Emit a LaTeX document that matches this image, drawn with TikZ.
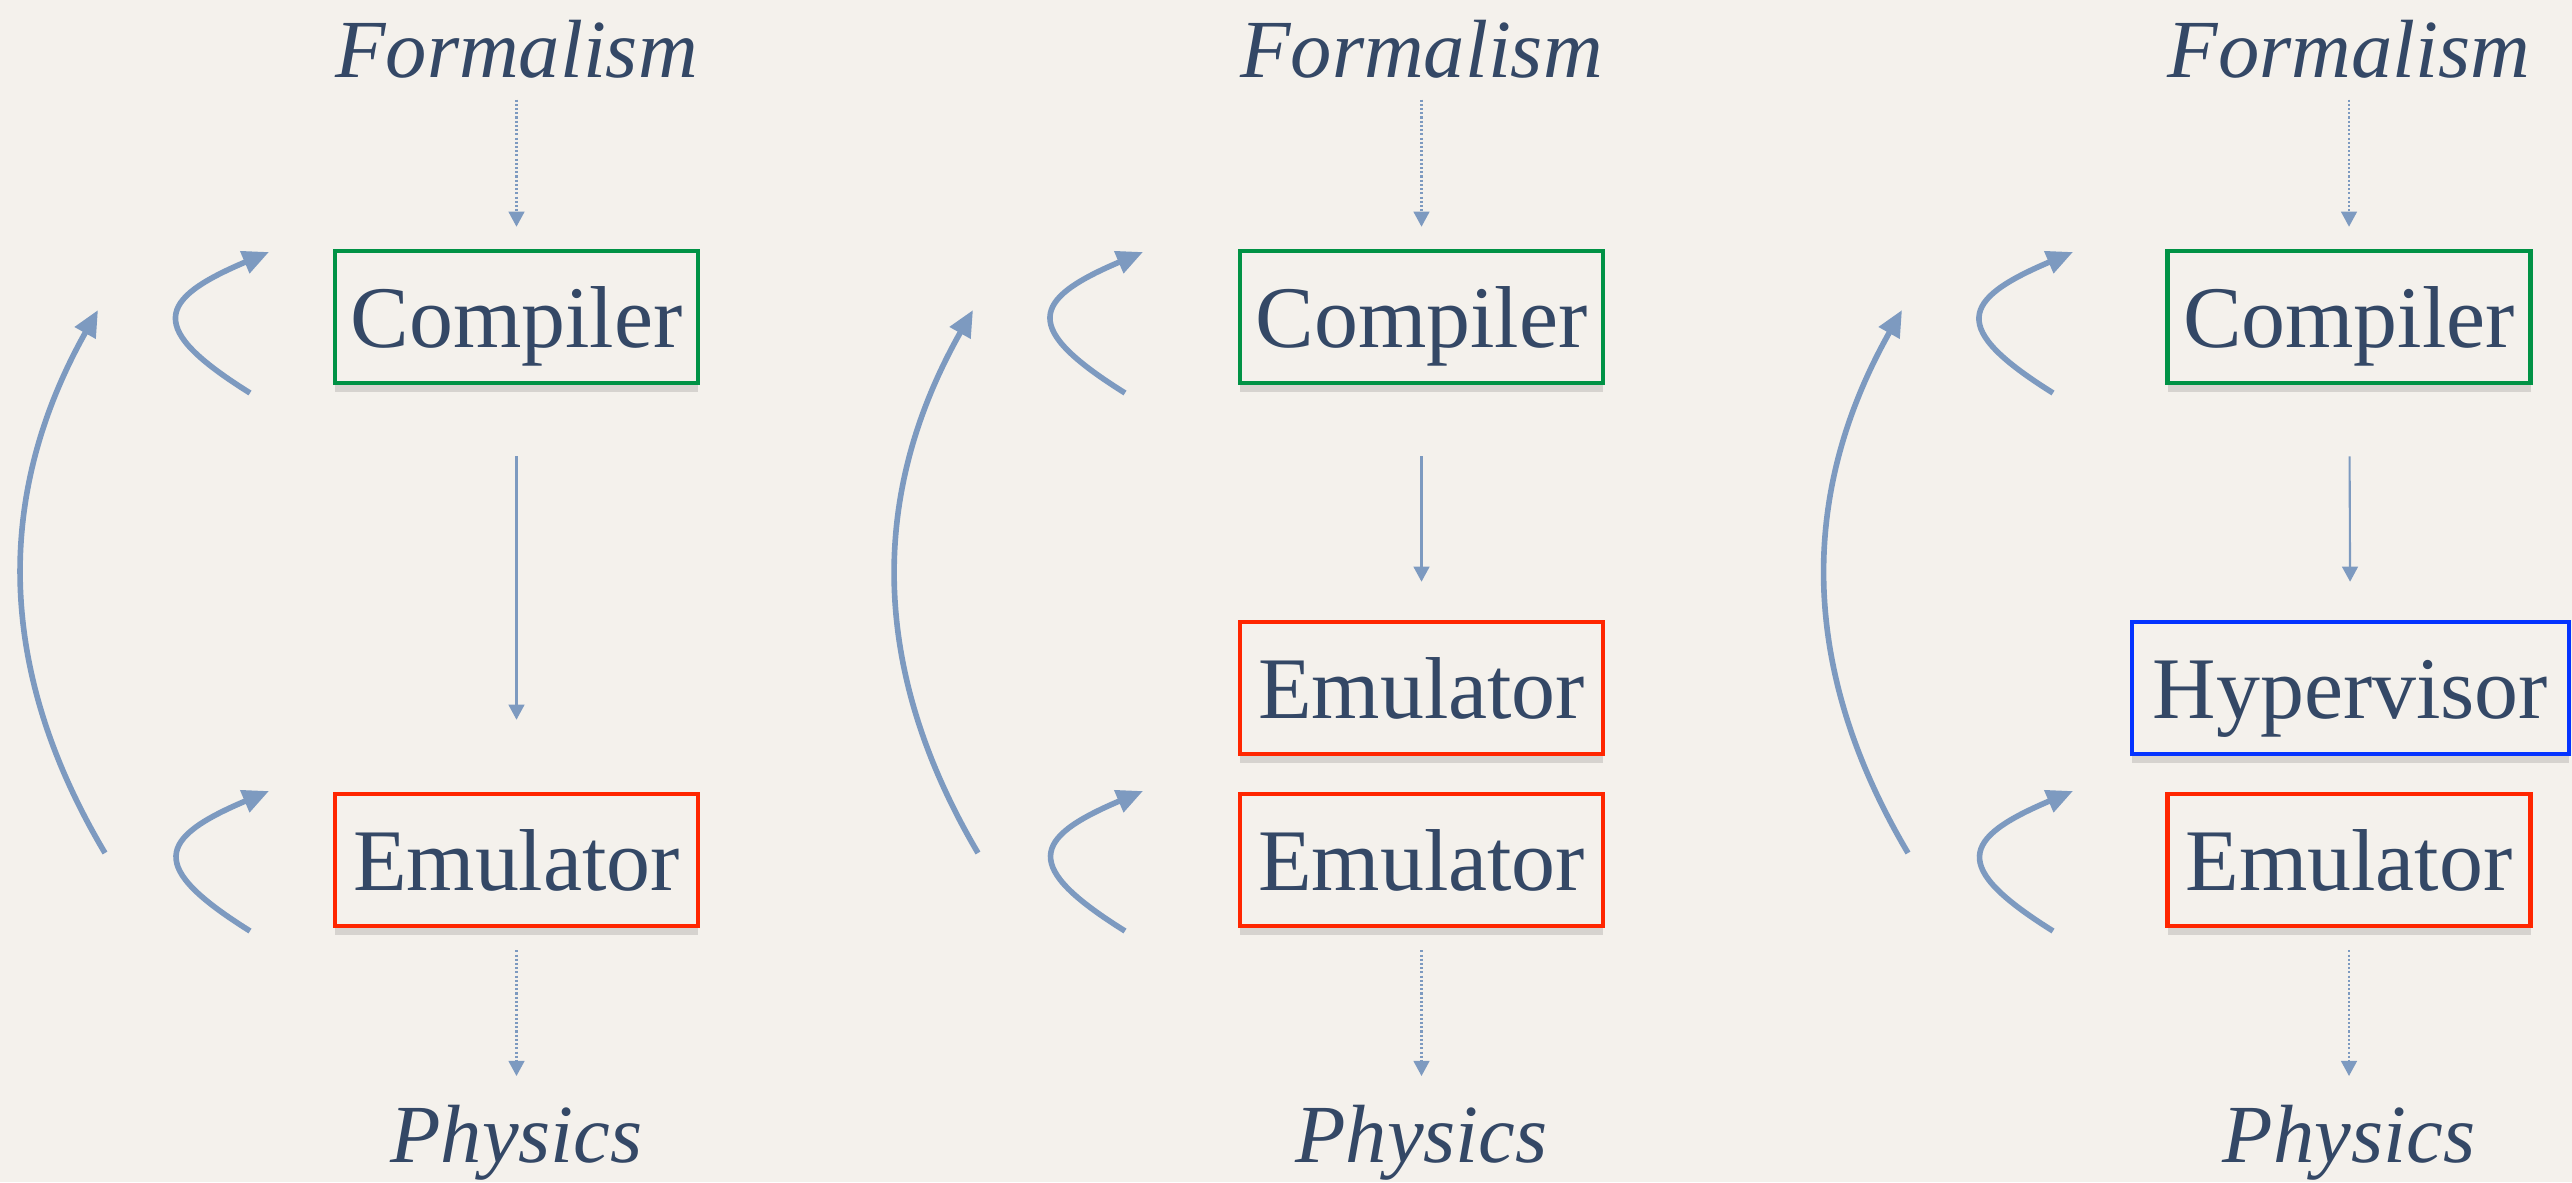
\documentclass[tikz,border=0pt]{standalone}
\usepackage{fontspec}
\setmainfont{Liberation Serif}
\usepackage{tikz}
\usetikzlibrary{arrows.meta, shadows}
\usepackage{xcolor}
\definecolor{paper}{RGB}{244, 241, 236}
\definecolor{ink}{RGB}{52, 72, 102}
\definecolor{arrowblue}{RGB}{125, 154, 192}
\definecolor{compgreen}{RGB}{0, 146, 69}
\definecolor{emured}{RGB}{255, 38, 0}
\definecolor{hypblue}{RGB}{4, 51, 255}

\begin{document}
\begin{tikzpicture}[
    box/.style={rectangle, draw, line width=1.3pt, fill=paper, text=ink, minimum width=3.63cm, minimum height=1.32cm, inner sep=0pt, text height=17.6pt, text depth=0pt, font=\fontsize{25}{29}\selectfont, drop shadow={shadow xshift=0pt, shadow yshift=-2.5pt, opacity=0.12, fill=black}},
    endtext/.style={inner sep=0pt, anchor=base, text=ink, font=\fontsize{23.5}{28}\selectfont\itshape},
    flow/.style={-{Triangle[length=4.3pt, width=4.5pt]}, line width=0.6pt, draw=arrowblue},
    hint/.style={flow, dash pattern=on 0.6pt off 0.6pt},
    loopback/.style={-{Triangle[length=7.5pt, width=6.5pt]}, line width=1.6pt, draw=arrowblue}
]
    \fill[paper] (0,0) rectangle (25.72,11.82);
    \useasboundingbox (0,0) rectangle (25.72,11.82);

    % plain emulator
    \node[endtext] (form1) at (5.165, 11.05) {Formalism};
    \node[box, draw=compgreen] (comp1) at (5.165, 8.65) {Compiler};
    \node[box, draw=emured] (emu1) at (5.165, 3.22) {Emulator};
    \node[endtext] (phys1) at (5.165, 0.20) {Physics};

    % emulator on emulator
    \node[endtext] (form2) at (14.215, 11.05) {Formalism};
    \node[box, draw=compgreen] (comp2) at (14.215, 8.65) {Compiler};
    \node[box, draw=emured] (emu2a) at (14.215, 4.94) {Emulator};
    \node[box, draw=emured] (emu2b) at (14.215, 3.22) {Emulator};
    \node[endtext] (phys2) at (14.215, 0.20) {Physics};

    % hypervisor on emulator
    \node[endtext] (form3) at (23.49, 11.05) {Formalism};
    \node[box, draw=compgreen] (comp3) at (23.49, 8.65) {Compiler};
    \node[box, draw=hypblue, minimum width=4.37cm] (hyp3) at (23.505, 4.94) {Hypervisor};
    \node[box, draw=emured] (emu3) at (23.49, 3.22) {Emulator};
    \node[endtext] (phys3) at (23.49, 0.20) {Physics};

    \draw[hint, shorten <=0.21cm, shorten >=0.22cm] (form1) -- (comp1);
    \draw[flow, shorten <=0.71cm, shorten >=0.72cm] (comp1) -- (emu1);
    \draw[hint, shorten <=0.22cm, shorten >=0.28cm] (emu1) -- (phys1);

    \draw[hint, shorten <=0.21cm, shorten >=0.22cm] (form2) -- (comp2);
    \draw[flow, shorten <=0.71cm, shorten >=0.38cm] (comp2) -- (emu2a);
    \draw[hint, shorten <=0.22cm, shorten >=0.28cm] (emu2b) -- (phys2);

    \draw[hint, shorten <=0.21cm, shorten >=0.22cm] (form3) -- (comp3);
    \draw[flow, shorten <=0.71cm, shorten >=0.38cm] (comp3) -- (hyp3);
    \draw[hint, shorten <=0.22cm, shorten >=0.28cm] (emu3) -- (phys3);

    % loop ends
    \coordinate (c1s) at (2.50, 7.89);  \coordinate (c1t) at (2.69, 9.30);
    \coordinate (e1s) at (2.50, 2.51);  \coordinate (e1t) at (2.69, 3.91);
    \coordinate (b1s) at (1.05, 3.29);  \coordinate (b1t) at (0.98, 8.72);
    \coordinate (c2s) at (11.25, 7.89); \coordinate (c2t) at (11.43, 9.30);
    \coordinate (e2s) at (11.25, 2.51); \coordinate (e2t) at (11.43, 3.91);
    \coordinate (b2s) at (9.78, 3.29);  \coordinate (b2t) at (9.73, 8.72);
    \coordinate (c3s) at (20.53, 7.89); \coordinate (c3t) at (20.73, 9.30);
    \coordinate (e3s) at (20.53, 2.51); \coordinate (e3t) at (20.73, 3.91);
    \coordinate (b3s) at (19.08, 3.29); \coordinate (b3t) at (19.02, 8.72);

    \draw[loopback] (c1s) to[out=148, in=203, looseness=2.2] (c1t);
    \draw[loopback] (e1s) to[out=148, in=203, looseness=2.2] (e1t);
    \draw[loopback] (b1s) to[bend left=30] (b1t);
    \draw[loopback] (c2s) to[out=148, in=203, looseness=2.2] (c2t);
    \draw[loopback] (e2s) to[out=148, in=203, looseness=2.2] (e2t);
    \draw[loopback] (b2s) to[bend left=30] (b2t);
    \draw[loopback] (c3s) to[out=148, in=203, looseness=2.2] (c3t);
    \draw[loopback] (e3s) to[out=148, in=203, looseness=2.2] (e3t);
    \draw[loopback] (b3s) to[bend left=30] (b3t);
\end{tikzpicture}
\end{document}
